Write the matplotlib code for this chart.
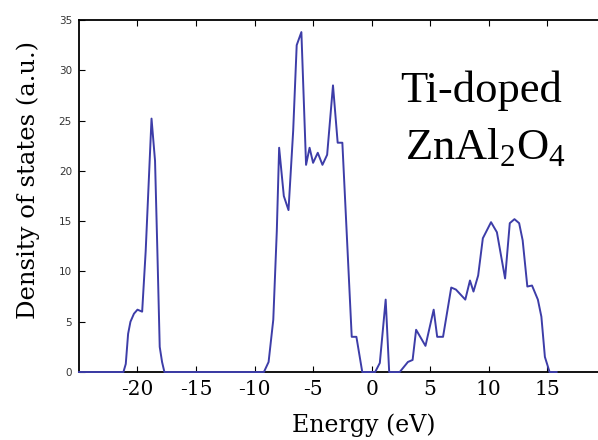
import matplotlib
matplotlib.use("Agg")
import matplotlib.pyplot as plt

# density of states
energy = [-25.0, -21.2, -21.0, -20.8, -20.6, -20.3, -20.0, -19.6, -19.3,
          -18.8, -18.5, -18.3, -18.1, -17.9, -17.7,
          -9.2, -8.8, -8.4, -8.1, -7.9, -7.5, -7.1, -6.7, -6.4, -6.0,
          -5.6, -5.3, -5.0, -4.6, -4.2, -3.8, -3.3, -2.9, -2.5,
          -1.7, -1.3, -0.8, 0.3, 0.7, 1.2, 1.5, 2.4, 3.1, 3.5, 3.8,
          4.6, 5.3, 5.6, 6.1, 6.8, 7.2, 8.0, 8.4, 8.7, 9.1, 9.5,
          10.2, 10.7, 11.4, 11.8, 12.2, 12.6, 12.9, 13.3, 13.7,
          14.2, 14.5, 14.8, 15.2, 15.8]
dos = [0.0, 0.0, 0.8, 3.8, 5.0, 5.8, 6.2, 6.0, 12.0,
       25.2, 21.0, 12.0, 2.5, 1.0, 0.0,
       0.0, 1.0, 5.2, 14.0, 22.3, 17.5, 16.1, 24.0, 32.5, 33.8,
       20.6, 22.3, 20.8, 21.8, 20.6, 21.6, 28.5, 22.8, 22.8,
       3.5, 3.5, 0.0, 0.0, 0.9, 7.2, 0.0, 0.0, 1.0, 1.2, 4.2,
       2.6, 6.2, 3.5, 3.5, 8.4, 8.2, 7.2, 9.1, 8.0, 9.6, 13.3,
       14.9, 13.9, 9.3, 14.8, 15.2, 14.8, 13.1, 8.5, 8.6,
       7.2, 5.5, 1.5, 0.0, 0.0]

xticks = [-20, -15, -10, -5, 0, 5, 10, 15]
yticks = [0, 5, 10, 15, 20, 25, 30, 35]

plt.rcParams['mathtext.fontset'] = 'custom'
plt.rcParams['mathtext.rm'] = 'Liberation Serif'

fig = plt.figure(figsize=(5.98, 4.4), dpi=100)
ax = fig.add_axes([0.132, 0.1545, 0.881, 0.80])

ax.plot(energy, dos, color='#3d3da8', lw=1.4, zorder=3, clip_on=False)
ax.set_xlim(-25, 20)
ax.set_ylim(0, 35)

ax.set_xticks(xticks)
ax.set_xticklabels([str(t) for t in xticks], family='DejaVu Serif', fontsize=14.5)
ax.set_yticks(yticks)
ax.set_yticklabels([str(t) for t in yticks], family='DejaVu Sans', fontsize=7.5, color='#333333')
ax.tick_params(axis='both', direction='in', length=4, width=0.8, top=True)
ax.tick_params(axis='x', pad=6)
ax.tick_params(axis='y', pad=5)
for s in ax.spines.values():
    s.set_linewidth(1.3)

ax.set_xlabel('Energy (eV)', family='DejaVu Serif', fontsize=17)
ax.xaxis.set_label_coords(0.54, -0.117)
ax.set_ylabel('Density of states (a.u.)', family='DejaVu Serif', fontsize=17.5)
ax.yaxis.set_label_coords(-0.074, 0.545)

ax.text(0.763, 0.767, 'Ti-doped', transform=ax.transAxes, family='Liberation Serif',
        fontsize=32, ha='center', va='baseline')
ax.text(0.771, 0.602, r'ZnAl$_2$O$_4$', transform=ax.transAxes, family='Liberation Serif',
        fontsize=32, ha='center', va='baseline')

fig.savefig('out.png', dpi=100)
